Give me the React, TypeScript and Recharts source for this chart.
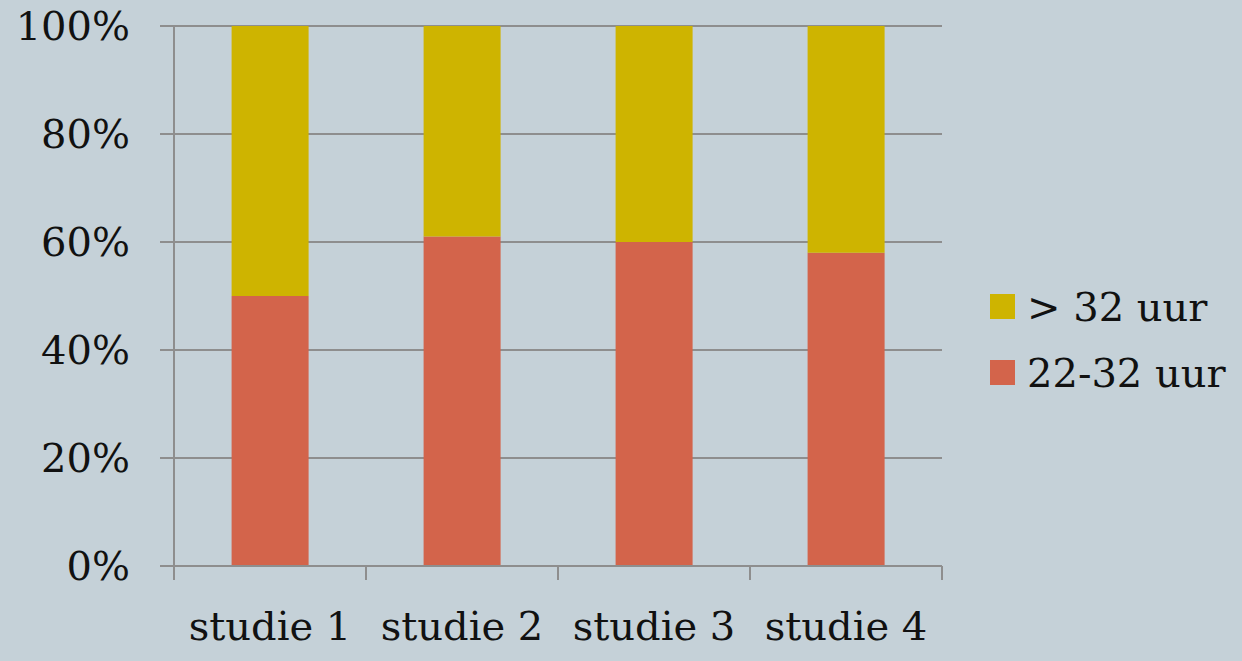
import { BarChart, Bar, XAxis, YAxis, CartesianGrid, Legend } from 'recharts'

const studies = ['studie 1', 'studie 2', 'studie 3', 'studie 4']
const part = [50, 61, 60, 58] // 22-32 uur
const full = [50, 39, 40, 42] // > 32 uur
const yTicks = [0, 20, 40, 60, 80, 100]

const data = studies.map((name, i) => ({ name, part: part[i], full: full[i] }))

const font = '"DejaVu Serif", Georgia, serif'
const grey = '#8e8e8e'
const fs = 40
const xGap = 46

// ticks sit on the category edges, not the centres
function EdgeTick(props: any) {
  const { x, y, payload, index, visibleTicksCount } = props
  const half = payload.offset ?? 0
  const last = index === visibleTicksCount - 1
  const top = y - xGap
  return (
    <g>
      <line x1={x - half} x2={x - half} y1={top} y2={top + 14} stroke={grey} strokeWidth={2} />
      {last && <line x1={x + half} x2={x + half} y1={top} y2={top + 14} stroke={grey} strokeWidth={2} />}
      <text x={x} y={y} dy="0.71em" textAnchor="middle" fill="#111" fontSize={fs} fontFamily={font}>
        {payload.value}
      </text>
    </g>
  )
}

function LegendBox(props: any) {
  const items = [...(props.payload ?? [])].reverse()
  return (
    <div style={{ fontFamily: font, fontSize: fs, color: '#111', paddingTop: 18, paddingLeft: 48 }}>
      {items.map((it: any) => (
        <div key={it.value} style={{ display: 'flex', alignItems: 'center', height: 66, whiteSpace: 'nowrap' }}>
          <span style={{ width: 25, height: 25, background: it.color, marginRight: 12, display: 'inline-block' }} />
          {it.value}
        </div>
      ))}
    </div>
  )
}

export default function App() {
  return (
    <div style={{ position: 'absolute', left: 0, top: 0, width: 1242, height: 661, background: '#c5d1d8' }}>
      <BarChart width={1242} height={661} data={data} barCategoryGap="30%"
        margin={{ top: 26, right: 0, left: 0, bottom: 0 }}>
        <CartesianGrid vertical={false} stroke={grey} strokeWidth={2} />
        <XAxis dataKey="name" height={95} axisLine={{ stroke: grey, strokeWidth: 2 }} tickLine={false}
          tickSize={0} tickMargin={xGap} tick={<EdgeTick />} />
        <YAxis width={174} domain={[0, 100]} ticks={yTicks} tickFormatter={(v: number) => `${v}%`}
          axisLine={{ stroke: grey, strokeWidth: 2 }} tickLine={{ stroke: grey, strokeWidth: 2 }}
          tickSize={14} tickMargin={30}
          tick={{ fontSize: fs, fill: '#111', fontFamily: font }} />
        <Legend layout="vertical" align="right" verticalAlign="middle" content={<LegendBox />}
          wrapperStyle={{ width: 300 }} />
        <Bar dataKey="part" name="22-32 uur" stackId="a" fill="#d3644b" isAnimationActive={false} />
        <Bar dataKey="full" name="> 32 uur" stackId="a" fill="#ceb400" isAnimationActive={false} />
      </BarChart>
    </div>
  )
}
